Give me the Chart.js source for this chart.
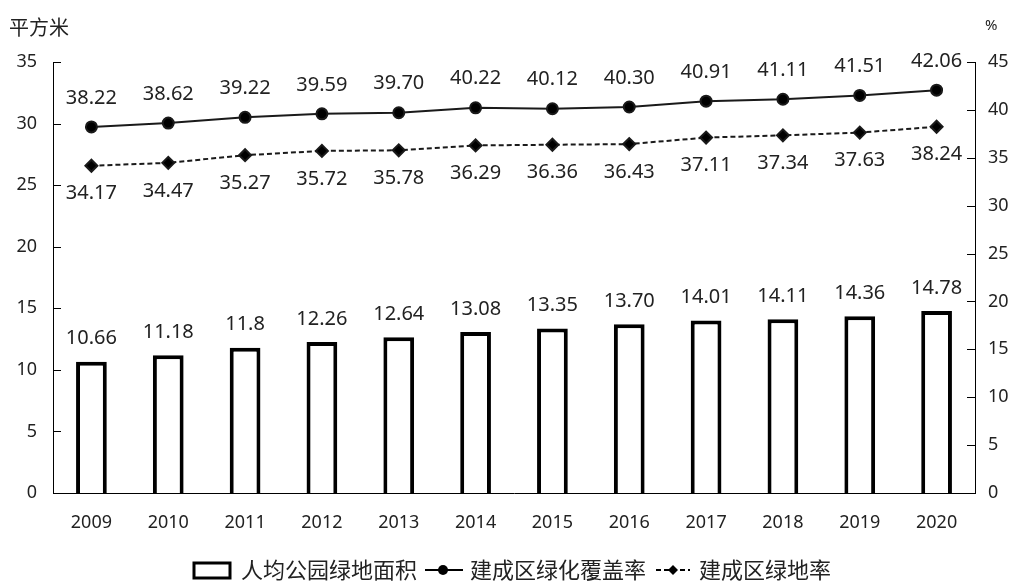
<!DOCTYPE html>
<html>
<head>
<meta charset="utf-8">
<script src="https://cdn.jsdelivr.net/npm/chart.js@4"></script>
<style>
    html, body { margin: 0; padding: 0; background: #fff; }
    #wrap { width: 1011px; height: 581px; position: relative; }
</style>
</head>
<body>
<div id="wrap"><canvas id="chart"></canvas></div>
<script>
const years = ["2009", "2010", "2011", "2012", "2013", "2014", "2015", "2016", "2017", "2018", "2019", "2020"];
// values kept as text so labels show like the source (11.8, 13.70 ...)
const parkArea = ["10.66", "11.18", "11.8", "12.26", "12.64", "13.08", "13.35", "13.70", "14.01", "14.11", "14.36", "14.78"];
const coverRate = ["38.22", "38.62", "39.22", "39.59", "39.70", "40.22", "40.12", "40.30", "40.91", "41.11", "41.51", "42.06"];
const greenRate = ["34.17", "34.47", "35.27", "35.72", "35.78", "36.29", "36.36", "36.43", "37.11", "37.34", "37.63", "38.24"];
const leftTicks = { min: 0, max: 35, step: 5 };
const rightTicks = { min: 0, max: 45, step: 5 };
const names = ["人均公园绿地面积", "建成区绿化覆盖率", "建成区绿地率"];

const NUM_FONT = "'Noto Sans', 'DejaVu Sans', sans-serif";
const CJK_FONT = "'Noto Sans CJK SC', 'Noto Sans', sans-serif";

// labels above / below each point
const valueLabels = {
    id: "valueLabels",
    afterDatasetsDraw(chart) {
        const ctx = chart.ctx;
        const offsets = [-23, -29, 28];
        const texts = [parkArea, coverRate, greenRate];
        ctx.save();
        ctx.font = `20px ${NUM_FONT}`;
        ctx.fillStyle = "#222";
        ctx.textAlign = "center";
        ctx.textBaseline = "middle";
        chart.data.datasets.forEach((ds, i) => {
            const meta = chart.getDatasetMeta(i);
            meta.data.forEach((el, j) => {
                ctx.fillText(texts[i][j], el.x, el.y + offsets[i]);
            });
        });
        ctx.restore();
    }
};

// inward tick marks, unit titles and the bottom legend
const decorations = {
    id: "decorations",
    afterDraw(chart) {
        const ctx = chart.ctx;
        const yl = chart.scales.y;
        const yr = chart.scales.y1;
        const area = chart.chartArea;
        ctx.save();
        ctx.strokeStyle = "#000";
        ctx.lineWidth = 1;
        ctx.beginPath();
        yl.ticks.forEach((t, i) => {
            const y = Math.round(yl.getPixelForTick(i)) + 0.5;
            ctx.moveTo(area.left, y);
            ctx.lineTo(area.left + 8, y);
        });
        yr.ticks.forEach((t, i) => {
            const y = Math.round(yr.getPixelForTick(i)) + 0.5;
            ctx.moveTo(area.right - 8, y);
            ctx.lineTo(area.right, y);
        });
        ctx.stroke();

        ctx.fillStyle = "#222";
        ctx.textBaseline = "middle";
        ctx.font = `20px ${CJK_FONT}`;
        ctx.textAlign = "left";
        ctx.fillText("平方米", 9, 27);
        ctx.font = `15px ${NUM_FONT}`;
        ctx.fillText("%", 985, 26);

        // legend
        ctx.font = `22px ${CJK_FONT}`;
        const ly = 570;
        let x = 194;
        ctx.lineWidth = 3;
        ctx.strokeStyle = "#000";
        ctx.strokeRect(x, ly - 7, 36, 15);
        x += 47;
        ctx.fillText(names[0], x, ly);
        x += ctx.measureText(names[0]).width + 8;

        ctx.lineWidth = 2;
        ctx.beginPath();
        ctx.moveTo(x, ly);
        ctx.lineTo(x + 38, ly);
        ctx.stroke();
        ctx.beginPath();
        ctx.arc(x + 18, ly, 5, 0, Math.PI * 2);
        ctx.fillStyle = "#000";
        ctx.fill();
        x += 45;
        ctx.fillStyle = "#222";
        ctx.fillText(names[1], x, ly);
        x += ctx.measureText(names[1]).width + 10;

        ctx.setLineDash([5, 3]);
        ctx.beginPath();
        ctx.moveTo(x, ly);
        ctx.lineTo(x + 34, ly);
        ctx.stroke();
        ctx.setLineDash([]);
        ctx.beginPath();
        ctx.moveTo(x + 17, ly - 5);
        ctx.lineTo(x + 22, ly);
        ctx.lineTo(x + 17, ly + 5);
        ctx.lineTo(x + 12, ly);
        ctx.closePath();
        ctx.fillStyle = "#000";
        ctx.fill();
        x += 43;
        ctx.fillStyle = "#222";
        ctx.fillText(names[2], x, ly);
        ctx.restore();
    }
};

function initChart() {
    const ctx = document.getElementById("chart").getContext("2d");
    new Chart(ctx, {
        type: "bar",
        data: {
            labels: years,
            datasets: [
                {
                    type: "bar",
                    label: names[0],
                    data: parkArea.map(Number),
                    backgroundColor: "#fff",
                    borderColor: "#000",
                    borderWidth: 4,
                    borderSkipped: "bottom",
                    barPercentage: 0.8,
                    categoryPercentage: 0.5,
                    yAxisID: "y",
                    order: 3
                },
                {
                    type: "line",
                    label: names[1],
                    data: coverRate.map(Number),
                    borderColor: "#1a1a1a",
                    backgroundColor: "#000",
                    borderWidth: 2,
                    pointRadius: 5.5,
                    pointStyle: "circle",
                    tension: 0,
                    yAxisID: "y1",
                    order: 1
                },
                {
                    type: "line",
                    label: names[2],
                    data: greenRate.map(Number),
                    borderColor: "#1a1a1a",
                    backgroundColor: "#000",
                    borderWidth: 2,
                    borderDash: [5, 3],
                    pointRadius: 6,
                    pointStyle: "rectRot",
                    tension: 0,
                    yAxisID: "y1",
                    order: 2
                }
            ]
        },
        options: {
            responsive: true,
            maintainAspectRatio: false,
            animation: false,
            layout: { padding: { top: 62, left: 0, right: 0, bottom: 0 } },
            plugins: {
                legend: { display: false },
                tooltip: { enabled: false }
            },
            scales: {
                x: {
                    grid: { display: false, drawTicks: false },
                    border: { display: true, color: "#000", width: 1 },
                    ticks: { color: "#222", font: { family: NUM_FONT, size: 18 }, padding: 19, maxRotation: 0 },
                    afterFit: (s) => { s.height = 88; }
                },
                y: {
                    position: "left",
                    min: leftTicks.min,
                    max: leftTicks.max,
                    grid: { display: false, drawTicks: false },
                    border: { display: true, color: "#000", width: 1 },
                    ticks: { stepSize: leftTicks.step, color: "#222", font: { family: NUM_FONT, size: 18 }, padding: 16 },
                    afterFit: (s) => { s.width = 53; }
                },
                y1: {
                    position: "right",
                    min: rightTicks.min,
                    max: rightTicks.max,
                    grid: { display: false, drawTicks: false },
                    border: { display: true, color: "#000", width: 1 },
                    ticks: { stepSize: rightTicks.step, color: "#222", font: { family: NUM_FONT, size: 18 }, padding: 13 },
                    afterFit: (s) => { s.width = 36; }
                }
            }
        },
        plugins: [valueLabels, decorations]
    });
}

window.addEventListener("DOMContentLoaded", initChart);
</script>
</body>
</html>
